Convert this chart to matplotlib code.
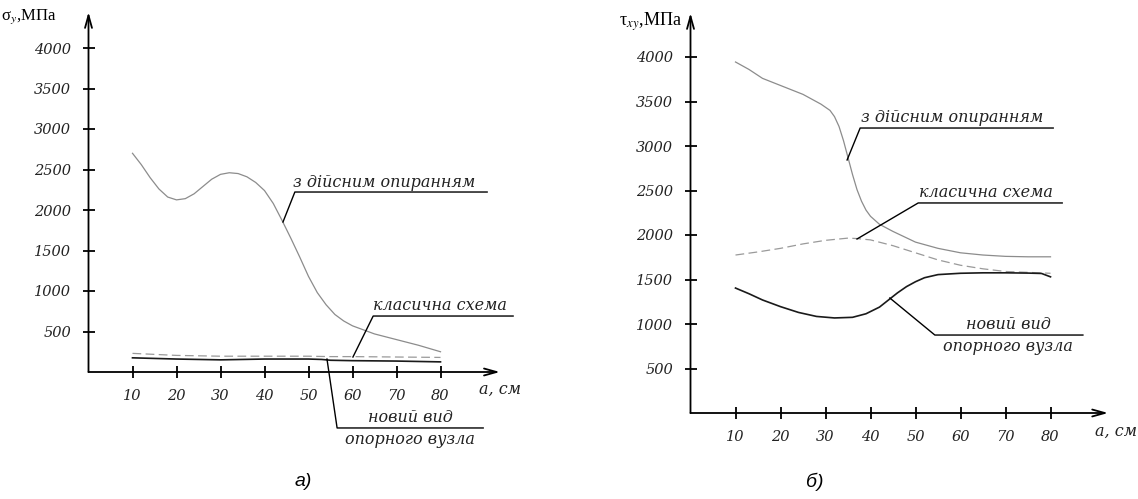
"""Two panels: normal stress and shear stress vs a, for three support schemes."""
import matplotlib
matplotlib.use("Agg")
import matplotlib.pyplot as plt

plt.rcParams["mathtext.fontset"] = "stix"

# ---- data (a, см) ----
# panel a) sigma_y, МПа
a_real_x = [10, 12, 14, 16, 18, 20, 22, 24, 26, 28, 30, 32, 34, 36, 38, 40, 42, 44, 46, 48,
            50, 52, 54, 56, 58, 60, 65, 70, 75, 80]
a_real_y = [2700, 2560, 2400, 2260, 2160, 2125, 2140, 2200, 2290, 2380, 2440, 2460, 2450, 2410,
            2340, 2240, 2080, 1870, 1650, 1420, 1180, 980, 830, 710, 630, 570, 470, 400, 330, 250]
a_clas_x = [10, 20, 30, 40, 50, 55, 60, 70, 80]
a_clas_y = [230, 205, 195, 195, 195, 190, 190, 185, 180]
a_new_x = [10, 20, 30, 40, 50, 53, 55, 60, 70, 80]
a_new_y = [175, 160, 150, 160, 160, 155, 145, 140, 135, 125]

# panel б) tau_xy, МПа
b_real_x = [10, 13, 16, 20, 25, 29, 31, 32, 33, 34, 35, 36, 37, 38, 39, 40, 42, 45, 50, 55,
            60, 65, 70, 75, 80]
b_real_y = [3944, 3860, 3760, 3680, 3580, 3470, 3400, 3330, 3220, 3060, 2870, 2680, 2510,
            2380, 2280, 2210, 2120, 2040, 1920, 1850, 1800, 1775, 1760, 1755, 1755]
b_clas_x = [10, 15, 20, 25, 30, 35, 37, 40, 45, 50, 55, 60, 65, 70, 75, 80]
b_clas_y = [1775, 1810, 1850, 1900, 1940, 1965, 1960, 1945, 1880, 1800, 1720, 1660, 1620, 1590,
            1580, 1570]
b_new_x = [10, 13, 16, 20, 24, 28, 32, 36, 39, 42, 44, 46, 48, 50, 52, 55, 60, 65, 70, 75, 78, 80]
b_new_y = [1404, 1340, 1270, 1195, 1130, 1085, 1068, 1075, 1115, 1190, 1270, 1350, 1420, 1475,
           1520, 1555, 1570, 1575, 1575, 1572, 1568, 1530]

x_ticks = [10, 20, 30, 40, 50, 60, 70, 80]
y_ticks = [500, 1000, 1500, 2000, 2500, 3000, 3500, 4000]

lbl_real = "з дійсним опиранням"
lbl_clas = "класична схема"
lbl_new = ("новий вид", "опорного вузла")

W, H = 1138, 499
TICK = dict(fontsize=10.5, style="italic", family="DejaVu Serif", color="#222222")
TXT = dict(fontsize=11.5, style="italic", family="DejaVu Serif", color="#222222")
GRAY = "#8c8c8c"
DASH = "#9a9a9a"
BLACK = "#1a1a1a"


def make_axes(fig, x0, y0, px_x, px_y, xmax, ymax):
    ax = fig.add_axes([x0 / W, (H - y0) / H, xmax * px_x / W, ymax * px_y / H])
    ax.set_xlim(0, xmax)
    ax.set_ylim(0, ymax)
    for s in ax.spines.values():
        s.set_visible(False)
    ax.patch.set_alpha(0)
    arrow = dict(arrowstyle="->,head_length=0.9,head_width=0.25", color="black", lw=1.3,
                 shrinkA=0, shrinkB=0)
    ax.annotate("", xy=(xmax, 0), xytext=(0, 0), arrowprops=arrow, annotation_clip=False)
    ax.annotate("", xy=(0, ymax), xytext=(0, 0), arrowprops=arrow, annotation_clip=False)
    ax.set_xticks(x_ticks)
    ax.set_yticks(y_ticks)
    ax.set_xticklabels([str(v) for v in x_ticks], **TICK)
    ax.set_yticklabels([str(v) for v in y_ticks], **TICK)
    ax.tick_params(direction="inout", length=9, width=1.3, pad=8)
    return ax


def leader(ax, pts, text, tx, ty, below=None):
    xs, ys = zip(*pts)
    ax.plot(xs, ys, color="black", lw=1.0, clip_on=False)
    ax.text(tx, ty, text, ha="center", va="bottom", **TXT)
    if below:
        ax.text(tx, below[1], below[0], ha="center", va="top", **TXT)


fig = plt.figure(figsize=(W / 100, H / 100), dpi=100)

# ---- panel a) ----
ax1 = make_axes(fig, 88.5, 372, 4.4, 0.081, 93.5, 4444)
ax1.plot(a_real_x, a_real_y, color=GRAY, lw=0.9)
ax1.plot(a_clas_x, a_clas_y, color=DASH, lw=0.9, ls=(0, (7, 3.5)))
ax1.plot(a_new_x, a_new_y, color=BLACK, lw=1.2)
leader(ax1, [(44.2, 1852), (46.9, 2222), (90.6, 2222)], lbl_real, 67.3, 2240)
leader(ax1, [(60.1, 185), (64.7, 691), (96.5, 691)], lbl_clas, 79.9, 710)
leader(ax1, [(54.2, 160), (56.5, -691), (89.7, -691)], lbl_new[0], 73.1, -670,
       below=(lbl_new[1], -730))
ax1.text(93.5, -105, "а, см", ha="center", va="top", clip_on=False, **TXT)

# ---- panel б) ----
ax2 = make_axes(fig, 690.5, 413, 4.5, 0.089, 92.8, 4494)
ax2.plot(b_real_x, b_real_y, color=GRAY, lw=0.9)
ax2.plot(b_clas_x, b_clas_y, color=DASH, lw=0.9, ls=(0, (7, 3.5)))
ax2.plot(b_new_x, b_new_y, color=BLACK, lw=1.2)
leader(ax2, [(34.8, 2843), (37.7, 3202), (80.6, 3202)], lbl_real, 58.1, 3220)
leader(ax2, [(37.0, 1955), (50.6, 2360), (82.6, 2360)], lbl_clas, 65.7, 2380)
leader(ax2, [(44.3, 1292), (54.3, 876), (87.2, 876)], lbl_new[0], 70.6, 895,
       below=(lbl_new[1], 840))
ax2.text(94.6, -105, "а, см", ha="center", va="top", clip_on=False, **TXT)

# axis titles and panel letters
fig.text(1 / W, 1 - 17 / H, r"σ$_y$,МПа", fontsize=12, family="Liberation Serif",
         ha="left", va="center")
fig.text(682 / W, 1 - 22 / H, r"τ$_{xy}$,МПа", fontsize=13, family="Liberation Serif",
         ha="right", va="center")
fig.text(303 / W, 1 - 481 / H, "а)", fontsize=14, style="italic", family="Liberation Sans",
         ha="center", va="center")
fig.text(815 / W, 1 - 482 / H, "б)", fontsize=14, style="italic", family="Liberation Sans",
         ha="center", va="center")

fig.savefig("out.png", dpi=100, facecolor="white")
